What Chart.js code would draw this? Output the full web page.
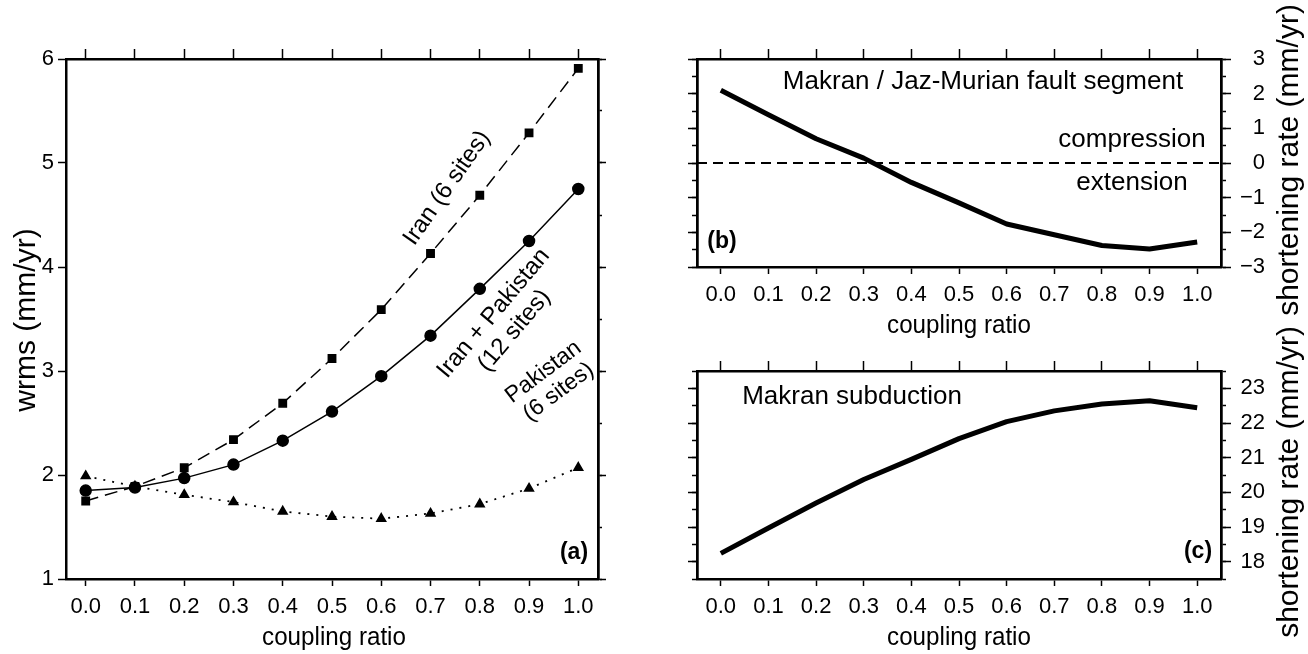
<!DOCTYPE html>
<html>
<head>
<meta charset="utf-8">
<script src="https://cdn.jsdelivr.net/npm/chart.js@4/dist/chart.umd.min.js"></script>
<style>
html, body { margin: 0; padding: 0; background: #fff; }
#wrap { position: relative; width: 1308px; height: 654px; overflow: hidden; }
canvas { position: absolute; left: 0; top: 0; }
</style>
</head>
<body>
<div id="wrap">
  <canvas id="chartA" width="1308" height="654"></canvas>
  <canvas id="chartB" width="1308" height="654"></canvas>
  <canvas id="chartC" width="1308" height="654"></canvas>
</div>
<script>
// x values shared by all panels
var couplingRatio = [0.0, 0.1, 0.2, 0.3, 0.4, 0.5, 0.6, 0.7, 0.8, 0.9, 1.0];
var couplingLabels = ['0.0', '0.1', '0.2', '0.3', '0.4', '0.5', '0.6', '0.7', '0.8', '0.9', '1.0'];

// panel (a): wrms (mm/yr)
var wrmsIranPak = [1.85, 1.88, 1.97, 2.10, 2.33, 2.61, 2.95, 3.34, 3.79, 4.25, 4.75];
var wrmsIran = [1.75, 1.89, 2.07, 2.34, 2.69, 3.12, 3.59, 4.13, 4.69, 5.29, 5.91];
var wrmsPak = [1.99, 1.89, 1.81, 1.74, 1.65, 1.60, 1.58, 1.63, 1.72, 1.87, 2.07];
var wrmsTicks = [1, 2, 3, 4, 5, 6];

// panel (b): Makran / Jaz-Murian shortening rate (mm/yr)
var rateJazMurian = [2.10, 1.39, 0.70, 0.14, -0.56, -1.15, -1.76, -2.07, -2.38, -2.48, -2.28];
var rateBTicks = [-3, -2, -1, 0, 1, 2, 3];

// panel (c): Makran subduction shortening rate (mm/yr)
var rateSubduction = [18.24, 18.97, 19.69, 20.37, 20.95, 21.55, 22.04, 22.35, 22.55, 22.64, 22.44];
var rateCTicks = [18, 19, 20, 21, 22, 23];

var FONT = "'Liberation Sans', Arial, Helvetica, sans-serif";

Chart.defaults.color = '#000';
Chart.defaults.font.family = FONT;

function pts(ys) {
    return couplingRatio.map(function (x, i) { return { x: x, y: ys[i] }; });
}

function fixTicks(values) {
    return function (s) { s.ticks = values.map(function (v) { return { value: v }; }); };
}

function minus(v) {
    return v < 0 ? '\u2212' + Math.abs(v) : '' + v;
}

// one side of the frame: border line plus outward tick marks (labels optional)
function frameAxis(position, min, max, tickLen, o) {
    o = o || {};
    return {
        type: 'linear',
        position: position,
        min: min,
        max: max,
        weight: o.weight || 0,
        grid: { drawOnChartArea: false, drawTicks: true, tickLength: tickLen, tickWidth: 1.5, tickColor: '#000' },
        border: { display: true, color: '#000', width: 2.5 },
        ticks: {
            display: !!o.labels,
            autoSkip: false,
            maxRotation: 0,
            minRotation: 0,
            stepSize: o.step,
            padding: o.padding || 7,
            crossAlign: o.crossAlign || 'near',
            font: { size: 22, family: FONT },
            color: '#000',
            callback: o.callback
        },
        afterBuildTicks: o.values ? fixTicks(o.values) : undefined,
        afterFit: function (s) {
            if (s.isHorizontal()) s.height = o.size || 0; else s.width = o.size || 0;
        }
    };
}

var textPlugin = {
    id: 'panelText',
    afterDraw: function (chart, args, opts) {
        var ctx = chart.ctx;
        (opts.items || []).forEach(function (t) {
            var lines = [].concat(t.text);
            ctx.save();
            ctx.translate(t.x, t.y);
            ctx.rotate((t.rot || 0) * Math.PI / 180);
            ctx.scale(t.sx || 1, 1);
            ctx.font = t.font;
            ctx.fillStyle = '#000';
            ctx.textAlign = 'center';
            ctx.textBaseline = 'middle';
            lines.forEach(function (ln, i) {
                ctx.fillText(ln, 0, (i - (lines.length - 1) / 2) * (t.lh || 26));
            });
            ctx.restore();
        });
    }
};

function xAxes(xMin, xMax, height) {
    return {
        x: frameAxis('bottom', xMin, xMax, 7, {
            labels: true, values: couplingRatio, padding: 8, size: height, weight: 1,
            callback: function (v, i) { return couplingLabels[i]; }
        }),
        xTop: frameAxis('top', xMin, xMax, 10, { values: couplingRatio })
    };
}

function baseOptions(padding, scales, items) {
    return {
        responsive: false,
        animation: false,
        devicePixelRatio: 1,
        layout: { padding: padding },
        scales: scales,
        plugins: {
            legend: { display: false },
            tooltip: { enabled: false },
            panelText: { items: items }
        }
    };
}

// ---------- panel (a) ----------
var scalesA = xAxes(-0.04, 1.04, 75);
scalesA.y = frameAxis('left', 1, 6, 8, { labels: true, values: wrmsTicks, padding: 4, size: 66, weight: 1 });
scalesA.yRight = frameAxis('right', 1, 6, 8, { values: wrmsTicks });
scalesA.yRightMinor = frameAxis('right', 1, 6, 4, { step: 0.5 });

new Chart(document.getElementById('chartA'), {
    type: 'line',
    data: {
        datasets: [{
            label: 'Iran + Pakistan (12 sites)',
            data: pts(wrmsIranPak),
            borderColor: '#000', backgroundColor: '#000', borderWidth: 1.5,
            pointStyle: 'circle', pointRadius: 5.5, tension: 0
        }, {
            label: 'Iran (6 sites)',
            data: pts(wrmsIran),
            borderColor: '#000', backgroundColor: '#000', borderWidth: 1.5, borderDash: [13, 7],
            pointStyle: 'rect', pointRadius: 5.2, tension: 0
        }, {
            label: 'Pakistan (6 sites)',
            data: pts(wrmsPak),
            borderColor: '#000', backgroundColor: '#000', borderWidth: 1.8, borderDash: [2, 7],
            pointStyle: 'triangle', pointRadius: 4.8, tension: 0
        }]
    },
    options: baseOptions({ left: 0, right: 710, top: 59, bottom: 0 }, scalesA, [
        { text: 'coupling ratio', x: 334, y: 638, sx: 0.93, font: '26px ' + FONT },
        { text: 'wrms (mm/yr)', x: 27, y: 320, rot: -90, font: '30px ' + FONT },
        { text: 'Iran (6 sites)', x: 447, y: 188, rot: -55, font: '24px ' + FONT },
        { text: ['Iran + Pakistan', '(12 sites)'], x: 504, y: 322, rot: -50, lh: 27, font: '24px ' + FONT },
        { text: ['Pakistan', '(6 sites)'], x: 551, y: 382, rot: -37, lh: 25, font: '23px ' + FONT },
        { text: '(a)', x: 574, y: 553, font: 'bold 23px ' + FONT }
    ]),
    plugins: [textPlugin]
});

// ---------- panel (b) ----------
var scalesB = xAxes(-0.05, 1.05, 60);
scalesB.y = frameAxis('left', -3, 3, 9, { values: rateBTicks });
scalesB.yLeftMinor = frameAxis('left', -3, 3, 5, { step: 0.5 });
scalesB.yRightMinor = frameAxis('right', -3, 3, 5, { step: 0.5 });
scalesB.yRight = frameAxis('right', -3, 3, 10, {
    labels: true, values: rateBTicks, crossAlign: 'far', size: 44, weight: 1,
    callback: function (v) { return minus(v); }
});

new Chart(document.getElementById('chartB'), {
    type: 'line',
    data: {
        datasets: [{
            label: 'Makran / Jaz-Murian fault segment',
            data: pts(rateJazMurian),
            borderColor: '#000', borderWidth: 5, pointRadius: 0, tension: 0,
            borderJoinStyle: 'round'
        }, {
            label: 'zero',
            data: [{ x: -0.05, y: 0 }, { x: 1.05, y: 0 }],
            borderColor: '#000', borderWidth: 1.8, borderDash: [10, 6], pointRadius: 0
        }]
    },
    options: baseOptions({ left: 697, right: 43, top: 59, bottom: 327 }, scalesB, [
        { text: 'coupling ratio', x: 959, y: 326, sx: 0.93, font: '26px ' + FONT },
        { text: 'shortening rate (mm/yr)', x: 1290, y: 160, rot: -90, font: '30px ' + FONT },
        { text: 'Makran / Jaz-Murian fault segment', x: 983, y: 82, font: '26px ' + FONT },
        { text: 'compression', x: 1132, y: 140, font: '26px ' + FONT },
        { text: 'extension', x: 1132, y: 183, font: '26px ' + FONT },
        { text: '(b)', x: 722, y: 242, font: 'bold 23px ' + FONT }
    ]),
    plugins: [textPlugin]
});

// ---------- panel (c) ----------
var scalesC = xAxes(-0.05, 1.05, 75);
scalesC.y = frameAxis('left', 17.5, 23.5, 9, { values: rateCTicks });
scalesC.yLeftMinor = frameAxis('left', 17.5, 23.5, 5, { step: 0.5 });
scalesC.yRightMinor = frameAxis('right', 17.5, 23.5, 5, { step: 0.5 });
scalesC.yRight = frameAxis('right', 17.5, 23.5, 10, {
    labels: true, values: rateCTicks, crossAlign: 'far', size: 44, weight: 1
});

new Chart(document.getElementById('chartC'), {
    type: 'line',
    data: {
        datasets: [{
            label: 'Makran subduction',
            data: pts(rateSubduction),
            borderColor: '#000', borderWidth: 5, pointRadius: 0, tension: 0,
            borderJoinStyle: 'round'
        }]
    },
    options: baseOptions({ left: 697, right: 43, top: 371, bottom: 0 }, scalesC, [
        { text: 'coupling ratio', x: 959, y: 638, sx: 0.93, font: '26px ' + FONT },
        { text: 'shortening rate (mm/yr)', x: 1290, y: 482, rot: -90, font: '30px ' + FONT },
        { text: 'Makran subduction', x: 852, y: 397, font: '26px ' + FONT },
        { text: '(c)', x: 1198, y: 552, font: 'bold 23px ' + FONT }
    ]),
    plugins: [textPlugin]
});
</script>
</body>
</html>
